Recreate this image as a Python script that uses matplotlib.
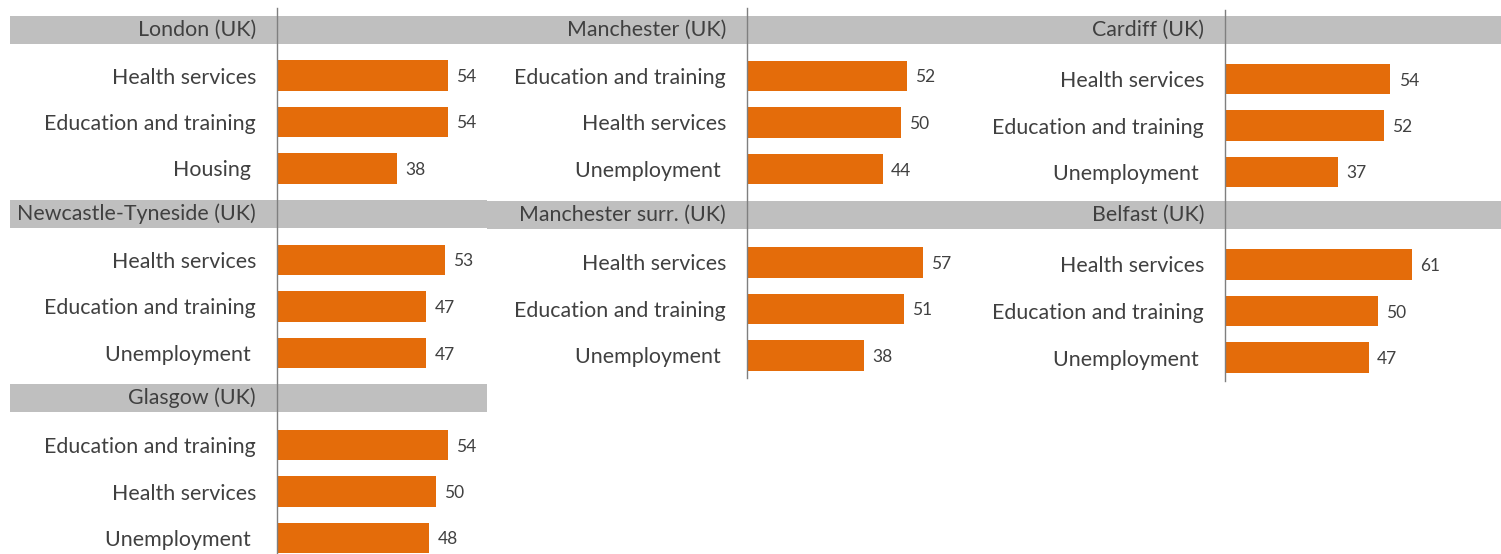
import matplotlib
matplotlib.use("Agg")
import matplotlib.pyplot as plt
from matplotlib.patches import Rectangle
from matplotlib.lines import Line2D

plt.rcParams['font.family'] = ['Lato', 'DejaVu Sans']

# top three issues per city (share of respondents, %)
london_items = ['Health services', 'Education and training', 'Housing ']
london_vals = [54, 54, 38]

newcastle_items = ['Health services', 'Education and training', 'Unemployment ']
newcastle_vals = [53, 47, 47]

glasgow_items = ['Education and training', 'Health services', 'Unemployment ']
glasgow_vals = [54, 50, 48]

manchester_items = ['Education and training', 'Health services', 'Unemployment ']
manchester_vals = [52, 50, 44]

manch_surr_items = ['Health services', 'Education and training', 'Unemployment ']
manch_surr_vals = [57, 51, 38]

cardiff_items = ['Health services', 'Education and training', 'Unemployment ']
cardiff_vals = [54, 52, 37]

belfast_items = ['Health services', 'Education and training', 'Unemployment ']
belfast_vals = [61, 50, 47]

W, H = 1501, 554
ORANGE = '#E46C0A'
BAND = '#BFBFBF'
TXT = '#404040'
LINE = '#7F7F7F'
PITCH = 46.5
LABEL_SIZE = 15.4

fig = plt.figure(figsize=(W / 100, H / 100), dpi=100)


def fx(x):
    return x / W


def fy(y):
    return 1 - y / H


def panel(title, items, vals, axis_x, band_x0, band_x1, head_top, cy0, scale):
    # grey title band across the column
    fig.add_artist(Rectangle((fx(band_x0), fy(head_top + 28)), (band_x1 - band_x0) / W, 28 / H,
                             transform=fig.transFigure, color=BAND, lw=0, zorder=1))
    fig.text(fx(axis_x - 21), fy(head_top + 14), title, ha='right', va='center',
             fontsize=LABEL_SIZE, color=TXT, zorder=3)

    top = cy0 - PITCH / 2
    ax = fig.add_axes([fx(axis_x), fy(top + 3 * PITCH), 70 * scale / W, 3 * PITCH / H])
    ax.patch.set_visible(False)
    ax.barh(range(len(vals)), vals, height=0.65, color=ORANGE)
    ax.set_xlim(0, 70)
    ax.set_ylim(2.5, -0.5)
    ax.set_yticks(range(len(items)), items)
    ax.set_xticks([])
    ax.tick_params(axis='y', length=0, pad=15, labelsize=LABEL_SIZE, labelcolor=TXT)
    for s in ax.spines.values():
        s.set_visible(False)
    for i, v in enumerate(vals):
        ax.annotate(str(v), (v, i), xytext=(6, 0), textcoords='offset points',
                    va='center_baseline', ha='left', fontsize=12.5, color=TXT)
    return ax


# column 1
panel('London (UK)', london_items, london_vals, 277, 10, 487, 16, 75.5, 3.17)
panel('Newcastle-Tyneside (UK)', newcastle_items, newcastle_vals, 277, 10, 487, 200, 260, 3.17)
panel('Glasgow (UK)', glasgow_items, glasgow_vals, 277, 10, 487, 384, 445, 3.17)
# column 2
panel('Manchester (UK)', manchester_items, manchester_vals, 747, 487, 1000, 16, 76, 3.08)
panel('Manchester surr. (UK)', manch_surr_items, manch_surr_vals, 747, 487, 1000, 201, 262.5, 3.08)
# column 3
panel('Cardiff (UK)', cardiff_items, cardiff_vals, 1225, 977, 1501, 16, 79, 3.06)
panel('Belfast (UK)', belfast_items, belfast_vals, 1225, 977, 1501, 201, 264.5, 3.06)

# vertical axis lines for each column
for x, y0, y1 in [(277, 8, 554), (747, 8, 378), (1225, 10, 381)]:
    fig.add_artist(Line2D([fx(x), fx(x)], [fy(y0), fy(y1)], transform=fig.transFigure,
                          color=LINE, lw=1, zorder=2))

fig.savefig('out.png', dpi=100)
